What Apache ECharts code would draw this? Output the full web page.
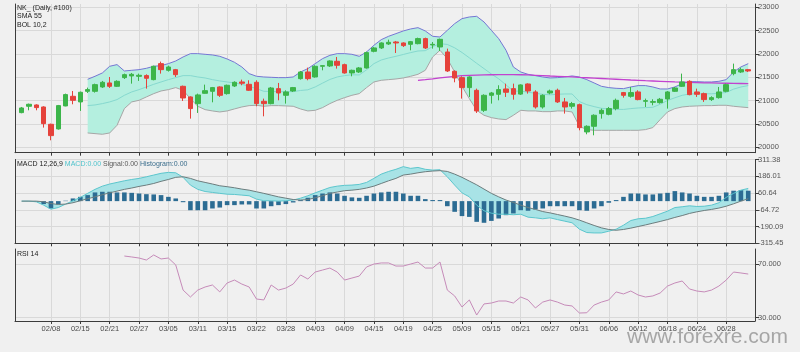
<!DOCTYPE html>
<html>
<head>
<meta charset="utf-8">
<script src="https://cdn.jsdelivr.net/npm/echarts@6/dist/echarts.min.js"></script>
<style>
html, body { margin: 0; padding: 0; background: #f0f0f0; }
#chart { width: 800px; height: 352px; }
</style>
</head>
<body>
<div id="chart"></div>
<script>
// trading days, Feb 4 .. Jul 3
const dates = [
  '02/04','02/05','02/06','02/07','02/08','02/12','02/13','02/14','02/15','02/18','02/19','02/20','02/21','02/22','02/25','02/26','02/27','02/28',
  '03/01','03/04','03/05','03/06','03/07','03/08','03/11','03/12','03/13','03/14','03/15','03/18','03/19','03/20','03/22','03/25','03/26','03/27','03/28','03/29',
  '04/01','04/02','04/03','04/04','04/05','04/08','04/09','04/10','04/11','04/12','04/15','04/16','04/17','04/18','04/19','04/22','04/23','04/24','04/25','04/26',
  '05/07','05/08','05/09','05/10','05/13','05/14','05/15','05/16','05/17','05/20','05/21','05/22','05/23','05/24','05/27','05/28','05/29','05/30','05/31',
  '06/03','06/04','06/05','06/06','06/07','06/10','06/11','06/12','06/13','06/14','06/17','06/18','06/19','06/20','06/21','06/24','06/25','06/26','06/27','06/28',
  '07/01','07/02','07/03'
];
const labelIdx = [4,8,12,16,20,24,28,32,36,40,44,48,52,56,60,64,68,72,76,80,84,88,92,96];

const open = [20743,20879,20907,20864,20493,20393,20886,21093,20972,21200, 21200,21293,21379,21307,21493,21529,21521,21536,21450,21793,
  21650,21664,21307,21079,20936,21157,21200,21293,21150,21314, 21400,21350,21393,20986,20936,21257,21114,21207,21471,21614,
  21507,21736,21743,21843,21771,21593,21614,21700,22057,22129, 22214,22257,22236,22207,22221,22329,22193,22150,22043,21629,
  21493,21279,21221,20793,21114,21136,21250,21257,21140,21357, 21186,20864,21164,21222,20972,20879,20914,20329,20450,20722,
  20707,20829,21172,21093,21186,20986,20964,20957,21036,21200, 21307,21414,21186,21150,21022,21064,21200,21579,21614,21664];
const close = [20843,20922,20850,20507,20250,20893,21129,21007,21179,21236, 21343,21393,21307,21414,21557,21564,21543,21479,21736,21664,
  21721,21557,21057,20829,21122,21214,21279,21114,21329,21393, 21372,21222,20936,20936,21271,21164,21186,21279,21614,21471,
  21736,21750,21850,21757,21593,21650,21700,22029,22129,22236, 22250,22236,22179,22264,22329,22129,22207,22314,21636,21486,
  21279,21507,20779,21114,21164,21236,21179,21136,21336,21207, 20864,21114,21207,20972,20864,20936,20421,20450,20686,20793,
  20829,21007,21114,21172,21022,21000,20979,21029,21186,21271, 21400,21129,21136,21022,21064,21186,21343,21664,21664,21636];
const low = [20729,20793,20793,20422,20150,20379,20879,20922,20779,21164, 21172,21272,21272,21293,21464,21364,21422,21257,21436,21579,
  21622,21507,20993,20614,20736,21150,20964,21079,21129,21293, 21329,21207,20879,20664,20921,21007,20936,21186,21450,21436,
  21493,21650,21721,21686,21579,21521,21593,21686,22036,22107, 22193,22021,22150,22079,22207,22107,22114,22064,21614,21393,
  21043,21079,20736,20757,20936,21007,21079,21021,21121,21150, 20829,20829,21136,20950,20722,20829,20364,20279,20257,20614,
  20686,20793,21064,21064,21007,20864,20900,20936,20829,21186, 21293,21114,21079,20972,20993,21043,21179,21543,21593,21614];
const high = [20864,20936,20922,20879,20507,20907,21150,21207,21193,21279, 21364,21422,21507,21436,21579,21593,21579,21564,21750,21836,
  21750,21679,21322,21093,21150,21343,21293,21307,21343,21414, 21450,21436,21436,21043,21293,21379,21221,21293,21636,21707,
  21757,21757,21864,21936,21793,21664,21721,22050,22150,22250, 22307,22279,22250,22279,22350,22350,22257,22329,22114,21650,
  21521,21521,21257,21136,21186,21329,21364,21364,21350,21370, 21222,21136,21236,21257,21057,20972,20936,20471,20707,20829,
  20864,21043,21186,21293,21222,21043,21029,21057,21207,21293, 21579,21436,21257,21172,21093,21293,21364,21793,21707,21679];
const lastPrice = 21655;

const none = n => Array(n).fill(null);
// Bollinger 10,2 (starts on the 10th bar)
const bollUpper = none(9).concat([21457,21522,21593,21736,21772,21636,21650,21664,21693,21736,21750,21793,21850,21936,22007,22007,21993,21979,21950,21893,
  21822,21722,21579,21522,21507,21500,21493,21493,21507,21614,21686,21793,21900,21971,22007,22007,21993,21950,22043,22186,
  22307,22379,22436,22493,22536,22564,22493,22379,22364,22507,22650,22757,22793,22807,22686,22507,22329,22079,21721,21614,
  21564,21536,21507,21486,21493,21507,21529,21507,21450,21379,21307,21279,21264,21257,21293,21322,21322,21293,21250,21250,
  21293,21364,21407,21407,21400,21400,21414,21450,21614,21722,21793]);
const bollMid = none(9).concat([20893,20907,20936,20972,21022,21114,21186,21236,21293,21350,21400,21450,21493,21536,21536,21507,21486,21450,21422,21400,
  21379,21350,21307,21257,21200,21196,21193,21189,21193,21218,21232,21293,21375,21454,21507,21536,21554,21550,21661,21793,
  21871,21914,21950,21989,22029,22064,22071,22157,22221,22204,22132,22032,21918,21800,21686,21571,21468,21336,21204,21204,
  21180,21157,21136,21125,21136,21143,21143,20979,20914,20872,20836,20822,20814,20811,20829,20843,20850,20857,20922,21004,
  21061,21114,21143,21147,21147,21147,21157,21175,21246,21293,21322]);
const bollLower = none(9).concat([20307,20293,20279,20307,20471,20829,20972,21007,21079,21150,21207,21236,21279,21222,21043,20879,20807,20779,20757,20779,
  20822,20864,20893,20900,20879,20893,20893,20886,20879,20821,20779,20793,20850,20936,21007,21064,21114,21150,21279,21400,
  21436,21450,21464,21486,21521,21564,21650,21936,22079,21900,21614,21307,21043,20793,20686,20636,20607,20593,20686,20793,
  20779,20779,20764,20764,20779,20779,20757,20450,20379,20364,20364,20364,20364,20364,20364,20364,20379,20422,20593,20757,
  20829,20864,20879,20886,20893,20893,20900,20900,20879,20864,20850]);
const sma55 = none(54).concat([21436,21450,21466,21486,21505,21522,21535,21543,21548,21552,21555,21557,21557,21557,21555,21550,
  21543,21536,21528,21521,21514,21507,21498,21490,21482,21474,21466,21458,21450,21442,21436,21428,21421,21414,21407,21400,
  21395,21390,21386,21382,21379,21376,21373,21370,21367,21364]);

// MACD 12,26,9
const macd = [0,0,-5,-30,-60,-48,-22,3,28,58, 88,112,128,140,152,162,170,182,195,208, 215,212,178,120,88,72,65,58,52,50,
  45,40,15,3,3,0,3,8,22,40, 62,82,102,112,118,120,125,140,170,202, 222,238,258,245,252,238,232,235,182,120,
  62,32,-30,-72,-90,-98,-98,-102,-98,-120, -125,-132,-125,-138,-150,-162,-210,-235,-238,-238,
  -225,-210,-180,-145,-132,-128,-115,-95,-75,-48, -42,-35,-40,-38,-30,-12,28,58,82,95];
const signal = [0,0,0,-5,-18,-25,-22,-12,3,18, 32,48,62,75,88,98,110,120,132,148, 162,178,182,170,152,140,128,115,108,100,
  90,82,70,58,45,32,22,12,8,12, 25,40,58,68,78,82,88,98,112,132, 152,170,195,202,212,220,225,228,222,202,
  178,150,122,90,58,32,8,-10,-30,-48, -62,-78,-88,-100,-112,-125,-142,-162,-182,-200,
  -212,-218,-212,-202,-190,-178,-165,-152,-138,-122, -108,-92,-80,-70,-62,-52,-38,-20,0,18];
const hist = [0,0,-3,-22,-55,-25,3,20,32,45, 65,70,70,65,65,62,57,52,50,45, 32,20,-8,-68,-68,-68,-55,-48,-30,-30,
  -25,-25,-55,-55,-38,-30,-22,-10,8,25, 45,57,65,57,40,28,25,40,57,65, 70,70,57,40,40,15,8,8,-38,-80,
  -112,-118,-155,-162,-148,-130,-105,-92,-68,-72, -62,-55,-38,-38,-38,-38,-68,-72,-55,-38,
  -12,8,32,57,57,50,50,57,62,75, 65,57,40,32,32,40,65,78,82,78];
const macdTicks = [-315.45, -190.09, -64.72, 60.64, 186.01, 311.38];

// RSI 14
const rsi = none(14).concat([76.2,75.5,74.7,73.2,77.0,74.0,74.7,69.5,50.7,45.5, 50.7,53.0,54.5,49.3,56.0,58.2,55.2,53.0,44.0,43.3,
  54.5,50.7,52.2,55.2,62.0,59.0,64.2,65.7,67.2,64.2, 58.2,59.7,61.2,68.0,70.2,71.0,71.0,68.7,68.7,70.2,
  71.7,67.2,67.2,71.7,50.7,46.3,38.0,43.3,32.0,40.3, 41.0,42.5,42.5,41.0,45.5,43.3,37.3,41.7,43.3,41.7,
  39.5,38.8,33.5,33.7,39.5,41.7,43.3,49.3,47.8,50.0, 47.0,45.5,46.3,48.5,53.7,56.0,57.5,51.5,50.0,49.3,
  50.7,53.7,58.2,64.2,63.5,62.7]);
const priceTicks = [20000, 20500, 21000, 21500, 22000, 22500, 23000];
const rsiTicks = [30, 70];

const font = 'Liberation Sans';
const axisColor = '#3c3c3c';
const gridColor = '#d9d9d9';
const upColor = '#3cb54a';
const downColor = '#e5423b';

const chart = echarts.init(document.getElementById('chart'));

const pairs = arr => arr.map((v, i) => [i, v]);
const candles = dates.map((d, i) => [i, open[i], close[i], low[i], high[i]]);

function band(topArr, botArr, fill) {
  return function (params, api) {
    const pts = [];
    topArr.forEach((v, i) => { if (v != null) pts.push(api.coord([i, v])); });
    for (let i = botArr.length - 1; i >= 0; i--) {
      if (botArr[i] != null) pts.push(api.coord([i, botArr[i]]));
    }
    return { type: 'polygon', shape: { points: pts }, style: { fill: fill } };
  };
}

const grids = [
  { left: 15, right: 45, top: 4, height: 148.7 },
  { left: 15, right: 45, top: 159.5, height: 83.8 },
  { left: 15, right: 45, top: 249, height: 72 }
];

function xAxisFor(g, showLabel) {
  return {
    type: 'value', gridIndex: g, min: -0.9, max: 99.92,
    axisLine: { show: true, onZero: false, lineStyle: { color: axisColor } },
    axisTick: { show: true, customValues: labelIdx, length: 3, lineStyle: { color: axisColor } },
    axisLabel: { show: showLabel, customValues: labelIdx, formatter: v => dates[v], fontSize: 7.5, color: '#4a4a4a', margin: 4, fontFamily: font },
    splitLine: { show: true, lineStyle: { color: gridColor, width: 1 } }
  };
}
function yAxisFor(g, min, max, ticks, fmt) {
  return {
    type: 'value', gridIndex: g, position: 'right', min: min, max: max,
    axisLine: { show: true, onZero: false, lineStyle: { color: axisColor } },
    axisTick: { show: true, customValues: ticks, length: 4, lineStyle: { color: axisColor } },
    axisLabel: { customValues: ticks, formatter: fmt, fontSize: 7.5, color: '#555', margin: 3, fontFamily: font },
    splitLine: { show: true, lineStyle: { color: gridColor, width: 1 } }
  };
}
function leftEdge(g) {
  return {
    type: 'value', gridIndex: g, position: 'left', min: 0, max: 1,
    axisLine: { show: true, onZero: false, lineStyle: { color: axisColor } },
    axisTick: { show: false }, axisLabel: { show: false }, splitLine: { show: false }
  };
}

const small = { fontSize: 7, fontFamily: font, color: '#222', fontWeight: 'normal' };

chart.setOption({
  animation: false,
  backgroundColor: '#f0f0f0',
  title: [
    { left: 17, top: 3.5, padding: 0, text: 'NK_ (Daily, #100)\nSMA 55\nBOL 10,2',
      textStyle: Object.assign({ lineHeight: 8.6 }, small) },
    { left: 17, top: 161, padding: 0,
      text: '{a|MACD 12,26,9 }{b|MACD:0.00 }{c|Signal:0.00 }{d|Histogram:0.00}',
      textStyle: Object.assign({
        rich: {
          a: Object.assign({}, small),
          b: Object.assign({}, small, { color: '#4fc3cc' }),
          c: Object.assign({}, small, { color: '#5a5a5a' }),
          d: Object.assign({}, small, { color: '#3a6d8c' })
        }
      }, small) },
    { left: 17, top: 250.5, padding: 0, text: 'RSI 14', textStyle: small }
  ],
  graphic: [
    { type: 'text', left: 627, top: 327, silent: true,
      style: { text: 'www.forexre.com', font: '21px "Liberation Sans"', fill: '#a6a6a6' } }
  ],
  grid: grids,
  xAxis: [xAxisFor(0, false), xAxisFor(1, false), xAxisFor(2, true)],
  yAxis: [
    yAxisFor(0, 19884, 23071, priceTicks, v => String(v)),
    yAxisFor(1, -315.45, 311.38, macdTicks, v => v.toFixed(2)),
    yAxisFor(2, 27.53, 81.46, rsiTicks, v => v.toFixed(3)),
    leftEdge(0), leftEdge(1), leftEdge(2)
  ],
  series: [
    { type: 'custom', name: 'BOL fill', xAxisIndex: 0, yAxisIndex: 0, z: 1, silent: true, clip: true,
      data: [[9, bollMid[9]]], renderItem: band(bollUpper, bollLower, '#b4efdf') },
    { type: 'line', name: 'BOL upper', xAxisIndex: 0, yAxisIndex: 0, z: 2, data: pairs(bollUpper), showSymbol: false,
      lineStyle: { color: '#7676d4', width: 1 } },
    { type: 'line', name: 'BOL mid', xAxisIndex: 0, yAxisIndex: 0, z: 2, data: pairs(bollMid), showSymbol: false,
      lineStyle: { color: '#86d9cf', width: 1 } },
    { type: 'line', name: 'BOL lower', xAxisIndex: 0, yAxisIndex: 0, z: 2, data: pairs(bollLower), showSymbol: false,
      lineStyle: { color: '#a6a6a6', width: 1 } },
    { type: 'line', name: 'SMA 55', xAxisIndex: 0, yAxisIndex: 0, z: 3, data: pairs(sma55), showSymbol: false,
      lineStyle: { color: '#c242cf', width: 1.3 } },
    { type: 'candlestick', name: 'NK', xAxisIndex: 0, yAxisIndex: 0, z: 4, data: candles, barWidth: 5,
      itemStyle: { color: upColor, color0: downColor, borderColor: upColor, borderColor0: downColor, borderWidth: 1 },
      markLine: {
        silent: true, symbol: ['none', 'none'], lineStyle: { opacity: 0 },
        label: { show: true, position: 'end', distance: 4, formatter: String(lastPrice), backgroundColor: '#3ec43e',
          color: '#f2fff2', fontSize: 7, fontFamily: font, padding: [1, 2, 0, 2] },
        data: [{ yAxis: lastPrice }]
      } },

    { type: 'custom', name: 'MACD fill', xAxisIndex: 1, yAxisIndex: 1, z: 1, silent: true, clip: true,
      data: [[0, macd[0]]], renderItem: band(macd, signal, '#a8e3e6') },
    { type: 'bar', name: 'Histogram', xAxisIndex: 1, yAxisIndex: 1, z: 2, data: pairs(hist), barWidth: 4.6,
      itemStyle: { color: '#2c6c93' } },
    { type: 'line', name: 'MACD', xAxisIndex: 1, yAxisIndex: 1, z: 3, data: pairs(macd), showSymbol: false,
      lineStyle: { color: '#5cc6cd', width: 1 } },
    { type: 'line', name: 'Signal', xAxisIndex: 1, yAxisIndex: 1, z: 3, data: pairs(signal), showSymbol: false,
      lineStyle: { color: '#6d7d7e', width: 1 } },

    { type: 'line', name: 'RSI', xAxisIndex: 2, yAxisIndex: 2, z: 3, data: pairs(rsi), showSymbol: false,
      lineStyle: { color: '#c68bb9', width: 1 } }
  ]
});
</script>
</body>
</html>
